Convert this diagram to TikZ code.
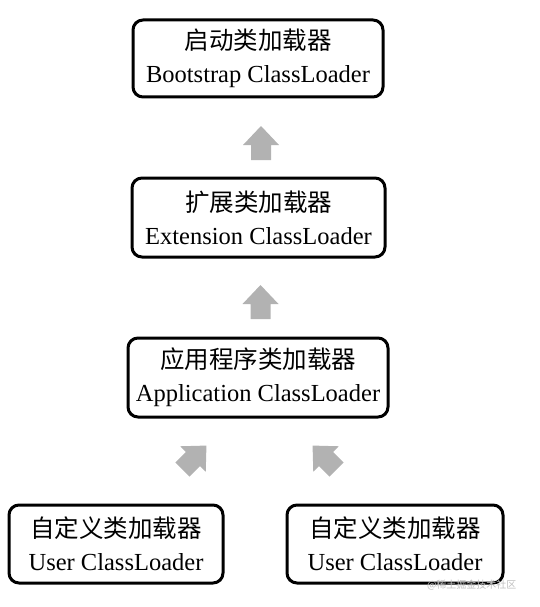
\documentclass[tikz,border=0pt]{standalone}
\usepackage{fontspec}
\setmainfont{Liberation Serif}
\newfontfamily\cjk{Noto Sans CJK SC}
\begin{document}
\begin{tikzpicture}[x=1pt,y=-1pt,
  loader/.style={draw=black, line width=3pt, rounded corners=10pt, fill=white,
    align=center, inner sep=0pt, font=\fontsize{24.5}{33}\selectfont},
  blockarrow/.style={fill=black!30, draw=none},
  watermark/.style={font=\cjk\fontsize{10}{12}\selectfont, text=black!25}]
\useasboundingbox (0,0) rectangle (539,607);
\node[loader, minimum width=250pt, minimum height=77pt] (boot) at (258,58.5)
  {{\cjk 启动类加载器}\\Bootstrap ClassLoader};
\node[loader, minimum width=253pt, minimum height=79pt] (ext) at (258.5,217.5)
  {{\cjk 扩展类加载器}\\Extension ClassLoader};
\node[loader, minimum width=260pt, minimum height=79pt] (app) at (258,377.5)
  {{\cjk 应用程序类加载器}\\Application ClassLoader};
\node[loader, minimum width=214pt, minimum height=78pt] (user1) at (116,544)
  {{\cjk 自定义类加载器}\\User ClassLoader};
\node[loader, minimum width=216pt, minimum height=78pt] (user2) at (395,544)
  {{\cjk 自定义类加载器}\\User ClassLoader};
% block arrows (each drawn around its head-base centre)
\foreach \name/\cx/\cy/\ang in {a1/261/145/0, a2/260.5/304/0, a3/193/459/-45, a4/326/459/45}{
  \begin{scope}[shift={(\cx,\cy)}, rotate=\ang]
    \fill[blockarrow] (0,-19) -- (18,0) -- (10,0) -- (10,15) -- (-10,15) -- (-10,0) -- (-18,0) -- cycle;
  \end{scope}
}
\node[watermark, anchor=east] (wm) at (520,585) {@稀土掘金技术社区};
\end{tikzpicture}
\end{document}
